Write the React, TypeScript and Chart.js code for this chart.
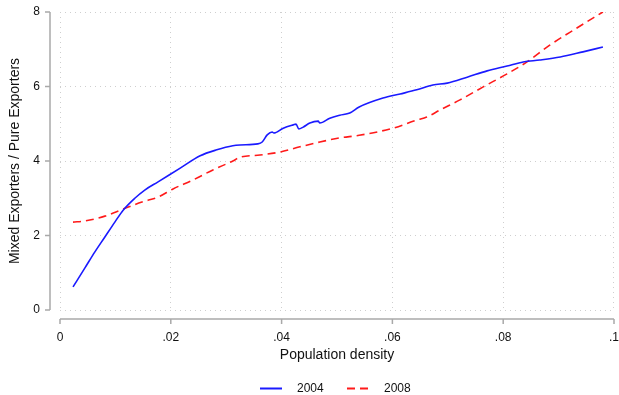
import React, { useEffect, useRef } from "react";
import { Chart, registerables } from "chart.js";

Chart.register(...registerables);

// 2004 series
const x2004 = [
  0.00235, 0.0045, 0.0063, 0.0081, 0.0099, 0.0114, 0.0135, 0.0153, 0.0177, 0.0217,
  0.0253, 0.0283, 0.0312, 0.0325, 0.0357, 0.0365, 0.0374, 0.0383, 0.0386, 0.0403,
  0.0421, 0.0426, 0.0431, 0.0439, 0.0451, 0.0466, 0.0469, 0.0487, 0.0505, 0.0523,
  0.054, 0.0583, 0.0614, 0.0644, 0.0673, 0.0699, 0.0735, 0.0771, 0.0807, 0.0836,
  0.0866, 0.0903, 0.0944, 0.098,
];
const y2004 = [
  0.62, 1.13, 1.56, 1.96, 2.36, 2.68, 3.0, 3.22, 3.44, 3.81,
  4.14, 4.3, 4.41, 4.43, 4.46, 4.51, 4.7, 4.78, 4.75, 4.88,
  4.97, 4.99, 4.86, 4.91, 5.02, 5.07, 5.02, 5.15, 5.23, 5.29,
  5.45, 5.69, 5.8, 5.91, 6.04, 6.09, 6.25, 6.42, 6.55, 6.66,
  6.71, 6.79, 6.93, 7.06,
];

// 2008 series
const x2008 = [
  0.00235, 0.0045, 0.0081, 0.0114, 0.0148, 0.0177, 0.0204, 0.024, 0.0276, 0.0312,
  0.0325, 0.0361, 0.0397, 0.0433, 0.0469, 0.0505, 0.054, 0.0601, 0.0644, 0.0662,
  0.0686, 0.0722, 0.0764, 0.0807, 0.0843, 0.0884, 0.0933, 0.098,
];
const y2008 = [
  2.36, 2.39, 2.52, 2.71, 2.9, 3.03, 3.25, 3.49, 3.76, 4.0,
  4.1, 4.16, 4.24, 4.38, 4.51, 4.62, 4.69, 4.88, 5.1, 5.18,
  5.37, 5.64, 5.99, 6.34, 6.66, 7.11, 7.57, 8.0,
];

const seriesLabels = ["2004", "2008"];
const xTicks = [0, 0.02, 0.04, 0.06, 0.08, 0.1];
const xTickLabels = ["0", ".02", ".04", ".06", ".08", ".1"];
const yTicks = [0, 2, 4, 6, 8];

const FONT = "Arial, 'Liberation Sans', Helvetica, sans-serif";
const AXIS_COLOR = "#a9a9a9";
const GRID_COLOR = "#cfcfcf";
const BLUE = "#1a1aff";
const RED = "#ff1a1a";

const axisPlugin = {
  id: "stataAxes",
  afterDraw(chart: any) {
    const { ctx, chartArea, scales } = chart;
    const xs = scales.x;
    const ys = scales.y;
    ctx.save();
    ctx.strokeStyle = AXIS_COLOR;
    ctx.lineWidth = 1.5;
    ctx.setLineDash([]);
    // y axis
    const ax = chartArea.left - 10;
    ctx.beginPath();
    ctx.moveTo(ax, ys.getPixelForValue(8));
    ctx.lineTo(ax, ys.getPixelForValue(0));
    yTicks.forEach((v) => {
      const py = ys.getPixelForValue(v);
      ctx.moveTo(ax - 5, py);
      ctx.lineTo(ax, py);
    });
    ctx.stroke();
    // x axis
    const ay = chartArea.bottom + 9;
    ctx.beginPath();
    ctx.moveTo(xs.getPixelForValue(0), ay);
    ctx.lineTo(xs.getPixelForValue(0.1), ay);
    xTicks.forEach((v) => {
      const px = xs.getPixelForValue(v);
      ctx.moveTo(px, ay);
      ctx.lineTo(px, ay + 5);
    });
    ctx.stroke();

    // legend
    const cx = (chartArea.left + chartArea.right) / 2;
    const ly = 388.5;
    ctx.font = "12px " + FONT;
    ctx.fillStyle = "#111";
    ctx.textBaseline = "middle";
    ctx.textAlign = "left";
    ctx.lineWidth = 2;
    ctx.strokeStyle = BLUE;
    ctx.beginPath();
    ctx.moveTo(cx - 77, ly);
    ctx.lineTo(cx - 55, ly);
    ctx.stroke();
    ctx.fillText(seriesLabels[0], cx - 40, ly);
    ctx.strokeStyle = RED;
    ctx.setLineDash([8, 5]);
    ctx.beginPath();
    ctx.moveTo(cx + 10, ly);
    ctx.lineTo(cx + 32, ly);
    ctx.stroke();
    ctx.setLineDash([]);
    ctx.fillText(seriesLabels[1], cx + 47, ly);
    ctx.restore();
  },
};

export default function App() {
  const ref = useRef<HTMLCanvasElement | null>(null);
  useEffect(() => {
    if (!ref.current) return;
    const chart = new Chart(ref.current, {
      type: "scatter",
      data: {
        datasets: [
          {
            label: seriesLabels[0],
            data: x2004.map((x, i) => ({ x, y: y2004[i] })),
            showLine: true,
            borderColor: BLUE,
            borderWidth: 1.6,
            pointRadius: 0,
            cubicInterpolationMode: "monotone",
            fill: false,
          },
          {
            label: seriesLabels[1],
            data: x2008.map((x, i) => ({ x, y: y2008[i] })),
            showLine: true,
            borderColor: RED,
            borderWidth: 1.6,
            borderDash: [8, 5],
            pointRadius: 0,
            cubicInterpolationMode: "monotone",
            fill: false,
          },
        ],
      },
      options: {
        animation: false,
        responsive: false,
        maintainAspectRatio: false,
        layout: { padding: { left: 0, right: 5, top: 12, bottom: 25 } },
        plugins: {
          legend: { display: false },
          tooltip: { enabled: false },
        },
        scales: {
          x: {
            type: "linear",
            min: 0,
            max: 0.1,
            afterBuildTicks: (scale: any) => {
              scale.ticks = xTicks.map((v) => ({ value: v }));
            },
            afterFit: (scale: any) => {
              scale.height = 60;
            },
            border: { display: false, dash: [1, 4] },
            grid: {
              color: GRID_COLOR,
              lineWidth: 1,
              drawTicks: true,
              tickLength: 20,
              tickColor: "rgba(0,0,0,0)",
            },
            ticks: {
              padding: 0,
              color: "#111",
              font: { size: 12, family: FONT },
              maxRotation: 0,
              autoSkip: false,
              callback: (v: any) => {
                const i = xTicks.findIndex((t) => Math.abs(t - Number(v)) < 1e-9);
                return i >= 0 ? xTickLabels[i] : "";
              },
            },
            title: {
              display: true,
              text: "Population density",
              color: "#111",
              font: { size: 14, family: FONT },
              padding: { top: 0, bottom: 6.5 },
            },
          },
          y: {
            type: "linear",
            min: 0,
            max: 8,
            afterBuildTicks: (scale: any) => {
              scale.ticks = yTicks.map((v) => ({ value: v }));
            },
            afterFit: (scale: any) => {
              scale.width = 60;
            },
            border: { display: false, dash: [1, 4] },
            grid: {
              color: GRID_COLOR,
              lineWidth: 1,
              drawTicks: true,
              tickLength: 20,
              tickColor: "rgba(0,0,0,0)",
            },
            ticks: {
              padding: 0,
              color: "#111",
              font: { size: 12, family: FONT },
              autoSkip: false,
            },
            title: {
              display: true,
              text: "Mixed Exporters / Pure Exporters",
              color: "#111",
              font: { size: 14, family: FONT },
              padding: { top: 7, bottom: 0 },
            },
          },
        },
      },
      plugins: [axisPlugin],
    } as any);
    return () => chart.destroy();
  }, []);
  return (
    <div style={{ position: "absolute", left: 0, top: 0, width: 619, height: 395, background: "#fff" }}>
      <canvas ref={ref} width={619} height={395} style={{ width: 619, height: 395 }} />
    </div>
  );
}
